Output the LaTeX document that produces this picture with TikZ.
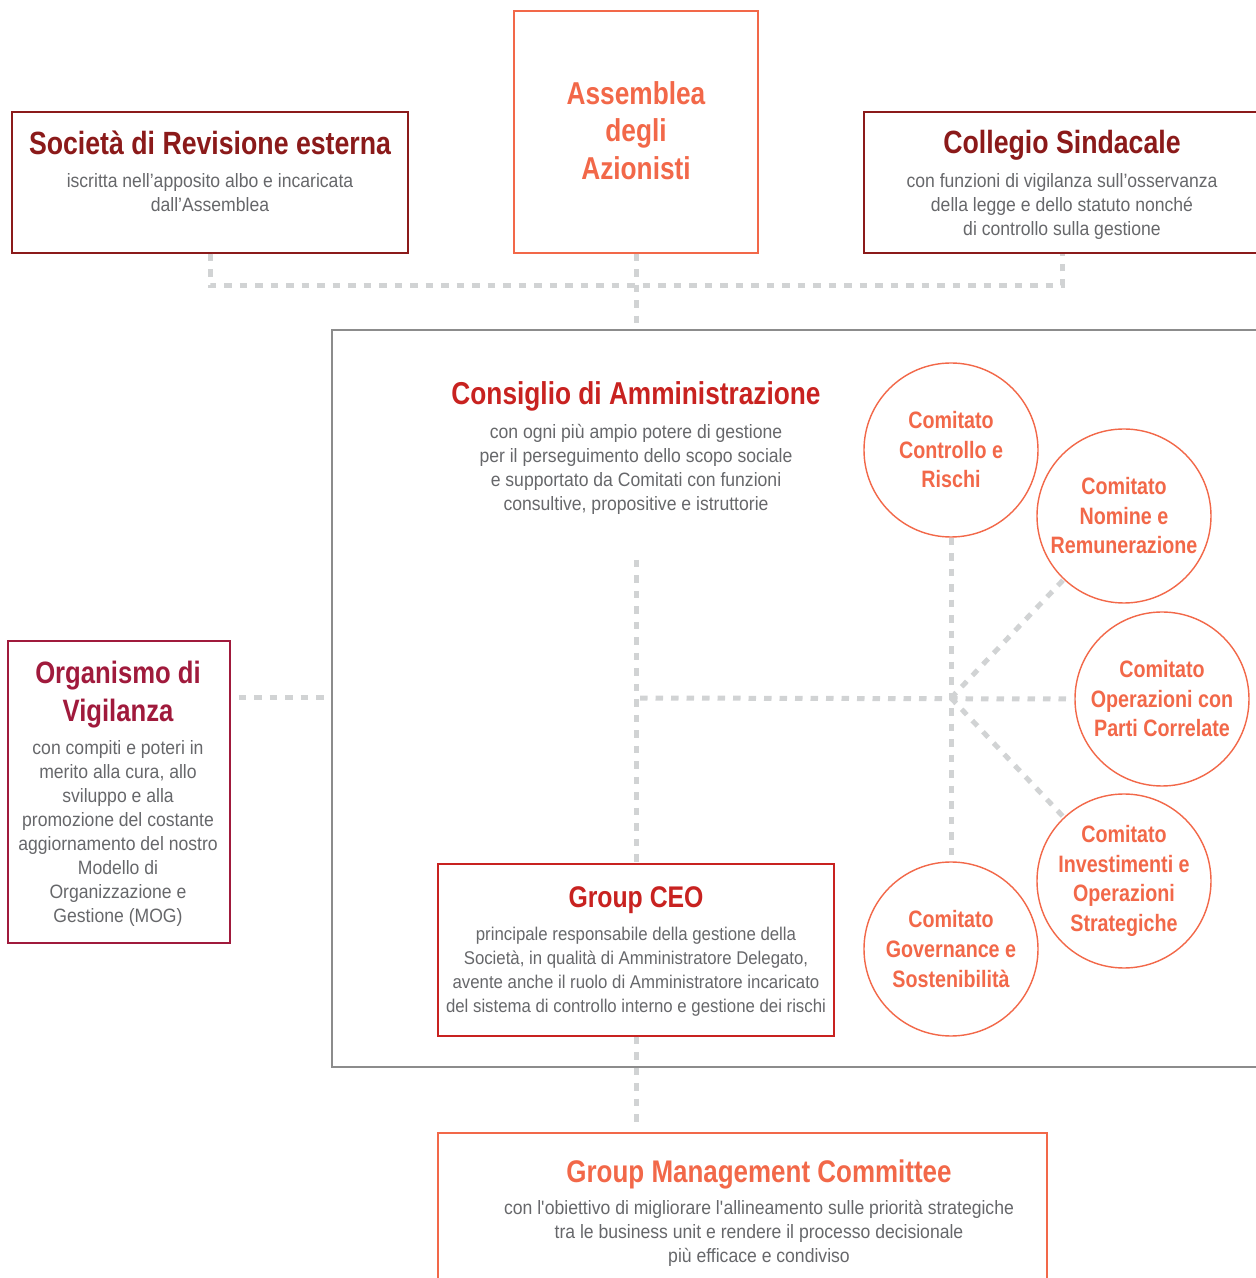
\documentclass[tikz,border=0pt]{standalone}
\usepackage{fontspec}
\setmainfont{Liberation Sans}[FakeStretch=0.91]
\newfontfamily\headfont{Liberation Sans}[FakeStretch=0.83]
\usepackage{xcolor}
\usetikzlibrary{positioning}

\definecolor{bordeaux}{HTML}{8B1A1A}
\definecolor{corallo}{HTML}{F26849}
\definecolor{rosso}{HTML}{C82220}
\definecolor{cremisi}{HTML}{A01A3C}
\definecolor{testogrigio}{HTML}{66676A}
\definecolor{tratteggio}{HTML}{D1D3D4}
\definecolor{cornice}{HTML}{8C8C8C}

\begin{document}
\begin{tikzpicture}[
    box/.style={draw, line width=0.8pt, inner sep=0pt},
    head/.style={font=\headfont\bfseries\fontsize{18.3}{21.5}\selectfont, inner sep=0pt, anchor=base},
    body/.style={font=\fontsize{11}{13.66}\selectfont, text=testogrigio, align=center, inner sep=0pt, anchor=north},
    comitato/.style={circle, draw=corallo, fill=white, line width=0.8pt, minimum size=3.48cm, inner sep=0pt,
        align=center, text=corallo, font=\headfont\bfseries\fontsize{13.5}{16.8}\selectfont},
    link/.style={draw=tratteggio, line width=0.1cm, dash pattern=on 0.15cm off 0.16cm}
  ]
                        \clip (0,0) rectangle (25.12,25.56);

                        % Marking box Societa di Revisione
                        \node (soc) [box, draw=bordeaux, minimum width=7.92cm, minimum height=2.82cm] at (4.20,21.91) {};%
                        \node (soctitle) [head, text=bordeaux] at (4.20,22.46) {Società di Revisione esterna};%
                        \node (socbody) [body] at (4.20,22.10) {iscritta nell’apposito albo e incaricata\\dall’Assemblea};%

                        % Marking box Assemblea
                        \node (ass) [box, draw=corallo, minimum width=4.88cm, minimum height=4.84cm] at (12.72,22.92) {};%
                        \node (asstitle) [head, text=corallo, align=center, anchor=north, font=\headfont\bfseries\fontsize{18}{21.3}\selectfont]
                            at (12.72,23.94) {Assemblea\\degli\\Azionisti};%

                        % Marking box Collegio Sindacale
                        \node (col) [box, draw=bordeaux, minimum width=7.92cm, minimum height=2.82cm] at (21.24,21.91) {};%
                        \node (coltitle) [head, text=bordeaux] at (21.24,22.48) {Collegio Sindacale};%
                        \node (colbody) [body] at (21.24,22.10) {con funzioni di vigilanza sull’osservanza\\della legge e dello statuto nonché\\di controllo sulla gestione};%

                        % Marking frame Consiglio
                        \node (cda) [box, draw=cornice, line width=0.9pt, minimum width=18.86cm, minimum height=14.74cm] at (16.07,11.59) {};%
                        \node (cdatitle) [head, text=rosso, font=\headfont\bfseries\fontsize{18}{21}\selectfont] at (12.72,17.46) {Consiglio di Amministrazione};%
                        \node (cdabody) [body] at (12.72,17.08) {con ogni più ampio potere di gestione\\per il perseguimento dello scopo sociale\\e supportato da Comitati con funzioni\\consultive, propositive e istruttorie};%

                        % Marking box Organismo di Vigilanza
                        \node (org) [box, draw=cremisi, minimum width=4.44cm, minimum height=6.04cm] at (2.38,9.72) {};%
                        \node (orgtitle) [head, text=cremisi, align=center, anchor=north, font=\headfont\bfseries\fontsize{17.6}{21.6}\selectfont]
                            at (2.36,12.34) {Organismo di\\Vigilanza};%
                        \node (orgbody) [body] at (2.36,10.76) {con compiti e poteri in\\merito alla cura, allo\\sviluppo e alla\\promozione del costante\\aggiornamento del nostro\\Modello di\\Organizzazione e\\Gestione (MOG)};%

                        % Marking box Group CEO
                        \node (ceo) [box, draw=rosso, minimum width=7.92cm, minimum height=3.44cm] at (12.72,6.56) {};%
                        \node (ceotitle) [head, text=rosso, font=\headfont\bfseries\fontsize{17}{21}\selectfont] at (12.72,7.40) {Group CEO};%
                        \node (ceobody) [body, font=\fontsize{10.5}{13.66}\selectfont] at (12.72,7.03) {principale responsabile della gestione della\\Società, in qualità di Amministratore Delegato,\\avente anche il ruolo di Amministratore incaricato\\del sistema di controllo interno e gestione dei rischi};%

                        % Marking box Group Management Committee
                        \node (gmc) [box, draw=corallo, minimum width=12.18cm, minimum height=3.30cm] at (14.85,1.25) {};%
                        \node (gmctitle) [head, text=corallo, font=\headfont\bfseries\fontsize{17.8}{21}\selectfont] at (15.18,1.90) {Group Management Committee};%
                        \node (gmcbody) [body] at (15.18,1.56) {con l\textquotesingle obiettivo di migliorare l\textquotesingle allineamento sulle priorità strategiche\\tra le business unit e rendere il processo decisionale\\più efficace e condiviso};%

                        % Marking the committees by circles
                        \node (cc) [comitato] at (19.02,16.56) {Comitato\\Controllo e\\Rischi};%
                        \node (cn) [comitato] at (22.48,15.24) {Comitato\\Nomine e\\Remunerazione};%
                        \node (co) [comitato] at (23.24,11.58) {Comitato\\Operazioni con\\Parti Correlate};%
                        \node (ci) [comitato] at (22.48,7.94) {Comitato\\Investimenti e\\Operazioni\\Strategiche};%
                        \node (cg) [comitato] at (19.02,6.58) {Comitato\\Governance e\\Sostenibilità};%

                        \coordinate (jn) at (12.72,19.84);
                        \coordinate (hub) at (19.02,11.60);
                        \coordinate (cdatop) at (12.72,14.36);

                        % Drawing line soc col
                        \draw [link] (soc.south) -- (soc.south |- jn) -| (col.south);%
                        % Drawing line ass cda
                        \draw [link] (ass.south) -- (ass.south |- cda.north);%
                        % Drawing line org cda
                        \draw [link, shorten <=0.16cm, shorten >=0.12cm] (org.east |- hub) -- (cda.west |- hub);%
                        % Drawing line cda ceo
                        \draw [link] (cdatop) -- (ceo.north);%
                        % Drawing line ceo gmc
                        \draw [link, shorten >=0.16cm] (ceo.south) -- (ceo.south |- gmc.north);%
                        % Drawing lines to the committees
                        \draw [link, shorten <=0.08cm] (cdatop |- hub) -- (co.west);%
                        \draw [link] (cc.south) -- (cg.north);%
                        \draw [link] (hub) -- (cn);%
                        \draw [link] (hub) -- (ci);%
\end{tikzpicture}
\end{document}
